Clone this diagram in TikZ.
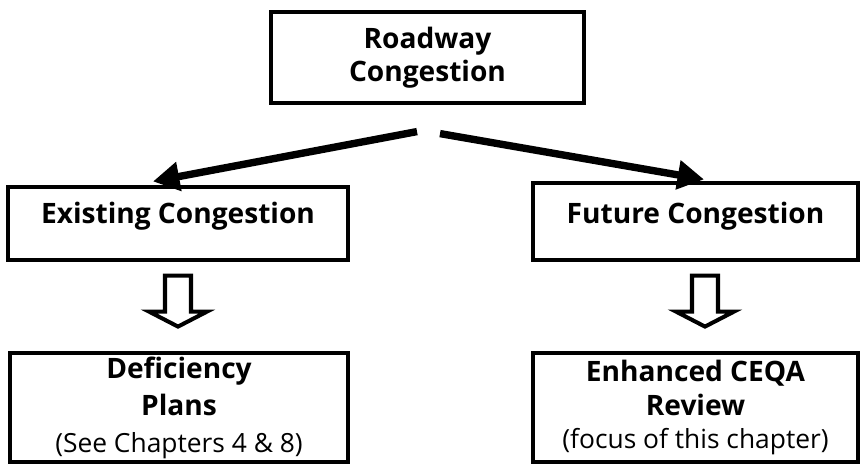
\documentclass[tikz,border=0pt]{standalone}
\usepackage{fontspec}
\setmainfont{Open Sans}
\usetikzlibrary{arrows.meta}
\newcommand{\hollowdown}[2]{
    \draw[hollow] ([xshift=#2 cm,yshift=-0.28cm]#1.south) ++(-0.26,0)
        -- ++(0,-0.72) -- ++(-0.32,0) -- ++(0.58,-0.3) -- ++(0.58,0.3)
        -- ++(-0.32,0) -- ++(0,0.72) -- cycle;
}
\newcommand{\note}[1]{{\mdseries\fontsize{15}{21}\selectfont #1}}
\tikzset{
    box/.style={draw, line width=1.8pt, align=center, inner sep=0pt,
        font=\bfseries\fontsize{16}{21}\selectfont},
    bigarrow/.style={line width=4.2pt, -{Triangle[length=15pt,width=16pt]}},
    hollow/.style={line width=2.3pt, fill=white, line join=miter},
}

\begin{document}
\begin{tikzpicture}
    \useasboundingbox (0,0) rectangle (17.24,-9.34);
    \node[box, minimum width=6.26cm, minimum height=1.82cm] (road) at (8.55,-1.15) {Roadway\\[-2pt]Congestion};
    \node[box, minimum width=6.8cm, minimum height=1.46cm, text height=11pt, text depth=11pt] (exist) at (3.56,-4.47) {Existing Congestion};
    \node[box, minimum width=6.5cm, minimum height=1.54cm, text height=11pt, text depth=9pt] (future) at (13.91,-4.43) {Future Congestion};
    \node[box, minimum width=6.76cm, minimum height=2.18cm] (defic) at (3.58,-8.15) {Deficiency\\Plans\\\note{(See Chapters 4 \& 8)}};
    \node[box, minimum width=6.5cm, minimum height=2.18cm] (ceqa) at (13.91,-8.15) {Enhanced CEQA\\[-2pt]Review\\[-2pt]\note{(focus of this chapter)}};

    \coordinate (lfrom) at ([xshift=-0.21cm,yshift=-0.54cm]road.south);
    \coordinate (rfrom) at ([xshift=0.25cm,yshift=-0.58cm]road.south);
    \draw[bigarrow] (lfrom) -- ([xshift=-0.5cm,yshift=0.08cm]exist.north);
    \draw[bigarrow] (rfrom) -- ([xshift=0.17cm,yshift=0.04cm]future.north);

    \hollowdown{exist}{0}
    \hollowdown{future}{0.19}
\end{tikzpicture}
\end{document}
